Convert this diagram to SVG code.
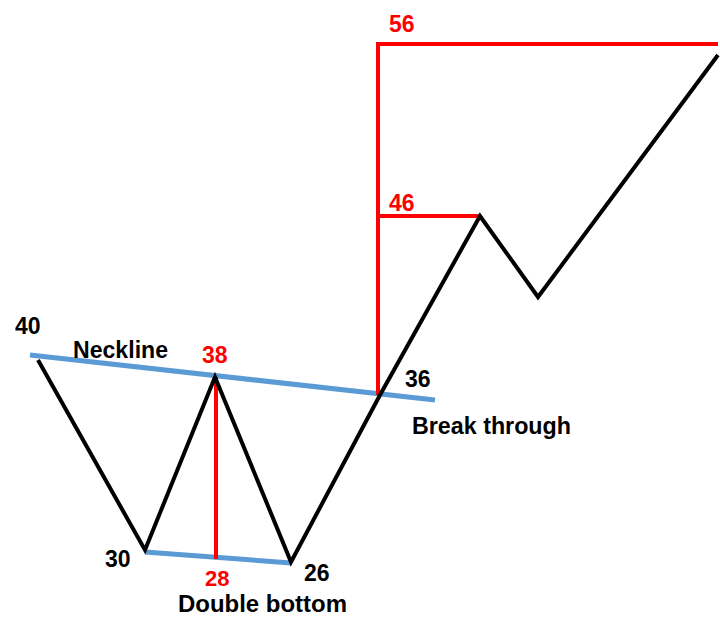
<svg xmlns="http://www.w3.org/2000/svg" width="720" height="635" viewBox="0 0 720 635">
<style>
.blk{fill:none;stroke:#000;stroke-width:4;stroke-linejoin:miter}
.blue{fill:none;stroke:#5b9bd5;stroke-width:5}
.red{fill:none;stroke:#ff0000;stroke-width:4}
text{font-family:"Liberation Sans",Arial,sans-serif;font-weight:bold;font-size:23px}
.k{fill:#000}
.r{fill:#ff0000}
</style>
<rect width="720" height="635" fill="#fff"/>
<g id="connectors">
<line class="blue" x1="30" y1="355" x2="435" y2="400"/>
<line class="blue" x1="145" y1="552" x2="291" y2="563"/>
<line class="red" x1="216" y1="377" x2="216" y2="559"/>
<polyline class="red" points="718,44 378,44 378,395"/>
<polyline class="red" points="378,216 480,216"/>
<polyline class="blk" points="38,360 145,550 215,377 291,562 380,395 480,216 538,297 718,55"/>
</g>
<g id="labels">
<text class="k" x="15" y="334">40</text>
<text class="k" x="73" y="358" textLength="95" lengthAdjust="spacingAndGlyphs">Neckline</text>
<text class="r" x="202" y="363">38</text>
<text class="k" x="405" y="387">36</text>
<text class="k" x="412" y="434" textLength="159" lengthAdjust="spacingAndGlyphs">Break through</text>
<text class="k" x="105" y="567">30</text>
<text class="r" x="205" y="586" style="font-size:22px">28</text>
<text class="k" x="178" y="612" textLength="169" lengthAdjust="spacingAndGlyphs">Double bottom</text>
<text class="k" x="304" y="581">26</text>
<text class="r" x="389" y="32">56</text>
<text class="r" x="389" y="211">46</text>
</g>
</svg>
